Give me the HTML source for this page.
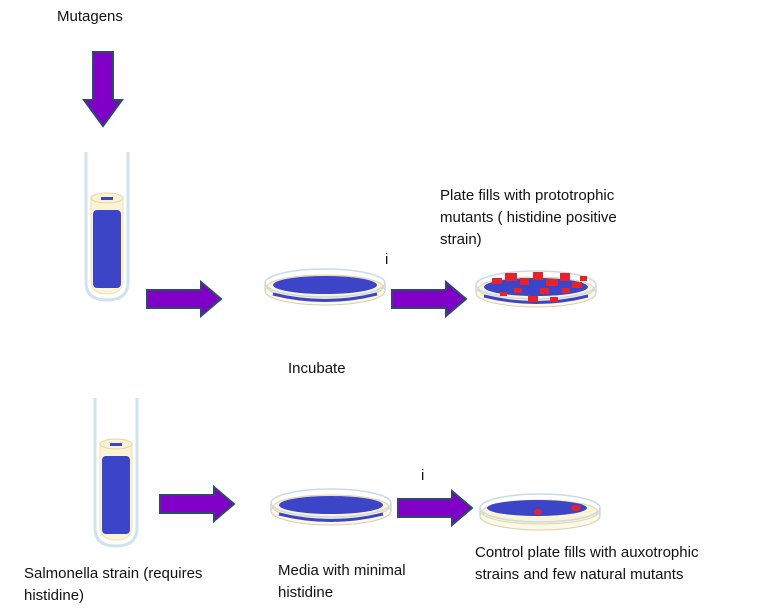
<!DOCTYPE html>
<html><head><meta charset="utf-8"><style>
body{margin:0;background:#fff}
svg{display:block}
text{font-family:"Liberation Sans",sans-serif;font-size:15px;fill:#111}
</style></head><body>
<svg width="776" height="616" viewBox="0 0 776 616">
<defs>
<g id="tube">
<path d="M0,0 V130 Q0,148 21,148 Q42,148 42,130 V0" fill="none" stroke="#cfe3ee" stroke-width="3"/>
<path d="M5,45 V128 Q5,142 21,142 Q37,142 37,128 V45 Z" fill="#fbf3d6" stroke="#f0e2b0"/>
<ellipse cx="21" cy="46" rx="16" ry="5" fill="#fbf3d6" stroke="#e8d79a"/>
<rect x="7" y="58" width="28" height="78" rx="4" fill="#3c44c8"/>
<rect x="15" y="45" width="12" height="3" fill="#3c44c8"/>
</g>
<g id="plate">
<ellipse cx="0" cy="8" rx="60" ry="14" fill="#fdf8e8" stroke="#d8cfa8"/>
<ellipse cx="0" cy="4" rx="58" ry="12" fill="#fbf3d6" stroke="#e0d6a6"/>
<ellipse cx="0" cy="0" rx="60" ry="14" fill="none" stroke="#c9dbe6" stroke-width="1.5"/>
<path d="M-60,0 V8 M60,0 V8" stroke="#c9dbe6" stroke-width="1.5"/>
</g>
<path id="rarrow" d="M0,8 H54 V0 L74,17 L54,34 V26 H0 Z" fill="#8000c8" stroke="#2e4a6a" stroke-width="2"/>
</defs>

<text x="57" y="21">Mutagens</text>
<path d="M93,52 H113 V100 H122 L103,126 L84,100 H93 Z" fill="#8000c8" stroke="#2e4a6a" stroke-width="2"/>

<use href="#tube" x="86" y="152"/>
<use href="#rarrow" x="147" y="282"/>
<g>
<use href="#plate" x="325" y="283"/>
<ellipse cx="325" cy="285" rx="52" ry="9" fill="#3c44c8"/>
<path d="M-52,9 Q0,22 52,9" transform="translate(325,285)" stroke="#3c44c8" stroke-width="3" fill="none"/>
</g>
<text x="385" y="264">i</text>
<use href="#rarrow" x="392" y="282"/>
<g>
<use href="#plate" x="536" y="285"/>
<ellipse cx="536" cy="287" rx="52" ry="9" fill="#3c44c8"/>
<path d="M-52,9 Q0,22 52,9" transform="translate(536,287)" stroke="#3c44c8" stroke-width="3" fill="none"/>
<g fill="#e8222a">
<rect x="492" y="278" width="10" height="6"/><rect x="505" y="273" width="12" height="8"/>
<rect x="520" y="278" width="9" height="7"/><rect x="533" y="272" width="10" height="8"/>
<rect x="546" y="279" width="12" height="7"/><rect x="560" y="273" width="10" height="8"/>
<rect x="572" y="282" width="10" height="6"/><rect x="514" y="288" width="8" height="5"/>
<rect x="540" y="288" width="9" height="6"/><rect x="562" y="288" width="8" height="5"/>
<rect x="500" y="292" width="7" height="4"/><rect x="528" y="296" width="10" height="6"/>
<rect x="550" y="297" width="8" height="5"/><rect x="580" y="276" width="7" height="5"/>
</g>
</g>
<text x="440" y="200">Plate fills with prototrophic</text>
<text x="440" y="222">mutants ( histidine positive</text>
<text x="440" y="244">strain)</text>

<text x="288" y="373">Incubate</text>

<use href="#tube" x="95" y="398"/>
<use href="#rarrow" x="160" y="487"/>
<g>
<use href="#plate" x="331" y="503"/>
<ellipse cx="331" cy="505" rx="52" ry="9" fill="#3c44c8"/>
<path d="M-52,9 Q0,22 52,9" transform="translate(331,505)" stroke="#3c44c8" stroke-width="3" fill="none"/>
</g>
<text x="421" y="480">i</text>
<use href="#rarrow" x="398" y="491"/>
<g>
<use href="#plate" x="540" y="508"/>
<ellipse cx="537" cy="508" rx="50" ry="8" fill="#3c44c8"/>
<ellipse cx="576" cy="508" rx="5" ry="3" fill="#e8222a"/>
<ellipse cx="538" cy="512" rx="4" ry="3" fill="#e8222a"/>
</g>

<text x="24" y="578">Salmonella strain (requires</text>
<text x="24" y="600">histidine)</text>
<text x="278" y="575">Media with minimal</text>
<text x="278" y="597">histidine</text>
<text x="475" y="557">Control plate fills with auxotrophic</text>
<text x="475" y="579">strains and few natural mutants</text>
</svg>
</body></html>
